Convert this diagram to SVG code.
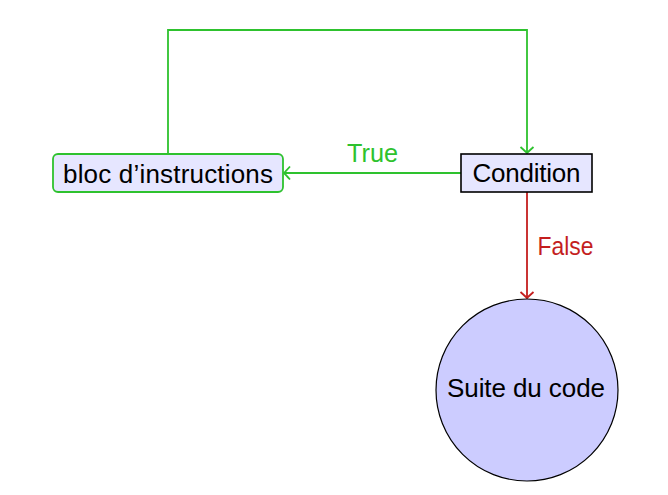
<svg xmlns="http://www.w3.org/2000/svg" width="668" height="495" viewBox="0 0 668 495">
<style>
text{font-family:"Liberation Sans",Arial,sans-serif;font-size:26px;text-anchor:middle}
.g{stroke:#2ec22e;fill:none;stroke-width:1.8}
.r{stroke:#c41e1e;fill:none;stroke-width:1.8}
</style>
<defs>
<marker id="ag" markerUnits="userSpaceOnUse" markerWidth="20" markerHeight="20" viewBox="-10 -10 20 20" refX="0" refY="0" orient="auto">
<path d="M-6,-6.5 Q-1.5,-1.5 0,0 Q-1.5,1.5 -6,6.5" fill="none" stroke="#2ec22e" stroke-width="1.8"/>
</marker>
<marker id="ar" markerUnits="userSpaceOnUse" markerWidth="20" markerHeight="20" viewBox="-10 -10 20 20" refX="0" refY="0" orient="auto">
<path d="M-6,-6.5 Q-1.5,-1.5 0,0 Q-1.5,1.5 -6,6.5" fill="none" stroke="#c41e1e" stroke-width="1.8"/>
</marker>
</defs>
<g id="connectors">
<path class="g" d="M168,154 V30 H527 V153" marker-end="url(#ag)"/>
<path class="g" d="M461,173 H284" marker-end="url(#ag)"/>
<text x="372.5" y="162" fill="#2ec22e" textLength="51" lengthAdjust="spacingAndGlyphs">True</text>
<path class="r" d="M527,192 V298" marker-end="url(#ar)"/>
<text x="565.5" y="255" fill="#c41e1e" textLength="56" lengthAdjust="spacingAndGlyphs">False</text>
</g>
<g id="bloc">
<rect x="53" y="154" width="230" height="38" rx="5" fill="#e6e6ff" stroke="#2ec22e" stroke-width="1.8"/>
<text x="168" y="183" textLength="210">bloc d’instructions</text>
</g>
<g id="condition">
<rect x="461" y="154" width="131" height="38" fill="#e6e6ff" stroke="#000" stroke-width="1.6"/>
<text x="526.5" y="182" textLength="108">Condition</text>
</g>
<g id="suite">
<circle cx="527" cy="390" r="91" fill="#ccccff" stroke="#000" stroke-width="1.2"/>
<text x="526" y="397" textLength="158">Suite du code</text>
</g>
</svg>
